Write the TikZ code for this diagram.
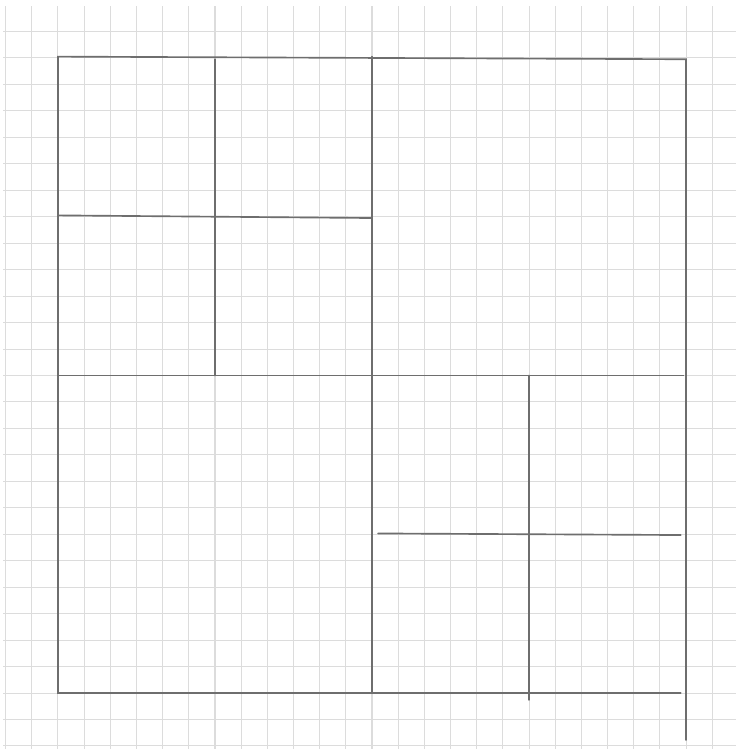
\documentclass[tikz,border=0pt]{standalone}
\usepackage{xcolor}
\usepackage{tikz}
\definecolor{paperc}{HTML}{DCDCDC}
\definecolor{penc}{HTML}{6E6E6E}
\tikzset{
  gridline/.style={draw=paperc, line width=0.55pt},
  pen/.style={draw=penc, line width=0.9pt, line cap=round},
}

\begin{document}
\begin{tikzpicture}[x=0.5cm, y=0.5056cm]
  \useasboundingbox[fill=white] (-2.216,-2.116) rectangle (25.91,26.19);
  % squared paper
  \foreach \i in {-2,...,25} \draw[gridline] (\i,-2.116) -- (\i,25.95);
  \foreach \j in {-2,...,25} \draw[gridline] (-2.1,\j) -- (25.91,\j);
  % outer square
  \draw[pen] (23.8,0) -- (0,0) -- (0,24.05) -- (24,23.95) -- (24,-1.78);
  % halves
  \draw[pen] (12,24.05) -- (12,0);
  \draw[pen] (0,12) -- (23.9,12);
  % top-left quarter
  \draw[pen] (6,23.95) -- (6,12);
  \draw[pen] (0,18.05) -- (12,17.95);
  % bottom-right quarter
  \draw[pen] (18,12) -- (18,-0.26);
  \draw[pen] (12.23,6.03) -- (23.8,5.97);
\end{tikzpicture}
\end{document}
